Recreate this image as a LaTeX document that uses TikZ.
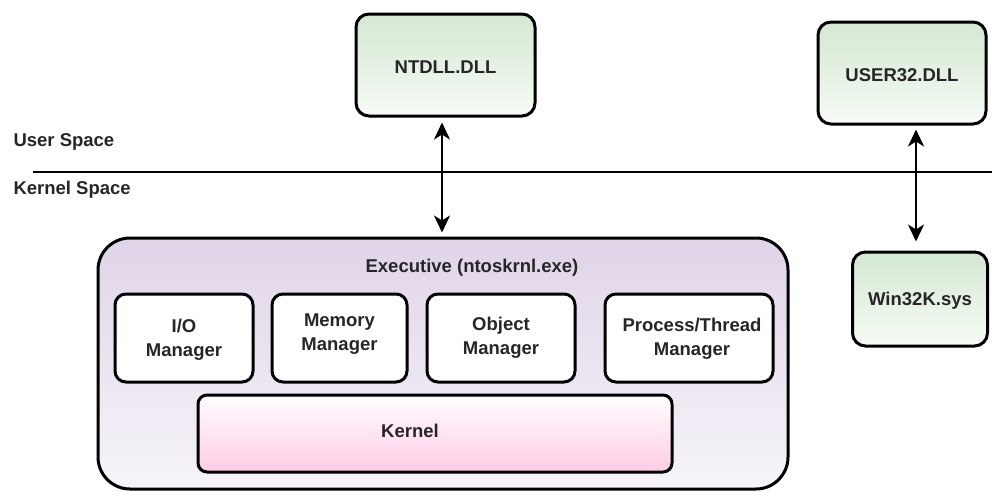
\documentclass[tikz,border=0pt]{standalone}
\usepackage{fontspec}
\setmainfont{Liberation Sans}
\usetikzlibrary{arrows.meta}
\definecolor{greentop}{RGB}{212,232,210}
\definecolor{greenbot}{RGB}{247,251,246}
\definecolor{lavtop}{RGB}{224,212,232}
\definecolor{lavbot}{RGB}{246,244,249}
\definecolor{pinktop}{RGB}{255,253,254}
\definecolor{pinkbot}{RGB}{255,204,229}
\definecolor{ink}{RGB}{38,38,38}
\tikzset{
  lbl/.style={font=\fontsize{18.5}{24}\selectfont\bfseries, text=ink, align=center},
  dllbox/.style={draw=black, line width=3pt, rounded corners=13pt,
    top color=greentop, bottom color=greenbot, inner sep=0pt},
  mgrbox/.style={draw=black, line width=3pt, rounded corners=11pt,
    fill=white, inner sep=0pt},
  execbox/.style={draw=black, line width=3pt, rounded corners=32pt,
    top color=lavtop, bottom color=lavbot, inner sep=0pt},
  kernbox/.style={draw=black, line width=3pt, rounded corners=9pt,
    top color=pinktop, bottom color=pinkbot, inner sep=0pt},
  link/.style={line width=2.5pt,
    {Stealth[length=17pt,width=16pt,inset=5pt]}-{Stealth[length=17pt,width=16pt,inset=5pt]}},
}
\begin{document}
\begin{tikzpicture}[x=1pt, y=-1pt]
\useasboundingbox (0,0) rectangle (992,491);

% user-mode libraries
\node[dllbox, minimum width=179pt, minimum height=102pt] (ntdll) at (445.5,65) {};
\node[lbl] at (445.5,67) {NTDLL.DLL};
\node[dllbox, minimum width=168pt, minimum height=102pt] (user32) at (902,73) {};
\node[lbl] at (902,75) {USER32.DLL};

% user/kernel boundary
\coordinate (sepL) at (33,172);
\coordinate (sepR) at (992,172);
\draw[line width=2.7pt] (sepL) -- (sepR);
\node[lbl, anchor=west] (us) at (10,142) {User Space};
\node[lbl, anchor=west] (ks) at (10,190) {Kernel Space};

% executive and its components
\node[execbox, minimum width=690pt, minimum height=251pt] (exec) at (443,363.5) {};
\node[lbl] (exectitle) at (472,268) {Executive (ntoskrnl.exe)};

\node[mgrbox, minimum width=138pt, minimum height=88pt] (io) at (184,338) {};
\node[lbl] at (184,340) {I/O\\Manager};
\node[mgrbox, minimum width=135pt, minimum height=88pt] (mem) at (339.5,338) {};
\node[lbl] at (339.5,334) {Memory\\Manager};
\node[mgrbox, minimum width=148pt, minimum height=88pt] (obj) at (501,338) {};
\node[lbl] at (501,338) {Object\\Manager};
\node[mgrbox, minimum width=168pt, minimum height=88pt] (proc) at (689,338) {};
\node[lbl] at (692,339) {Process/Thread\\Manager};

\node[kernbox, minimum width=474pt, minimum height=77pt] (kern) at (435,433.5) {};
\node[lbl] at (410,431) {Kernel};

% win32k driver
\node[dllbox, minimum width=135pt, minimum height=94pt] (win32k) at (920,299) {};
\node[lbl] at (920,301) {Win32K.sys};

% system call paths
\draw[link, shorten <=5pt, shorten >=4pt] (ntdll.south -| 442,0) -- (exec.north -| 442,0);
\draw[link, shorten <=4pt, shorten >=9pt] (user32.south -| 916,0) -- (win32k.north -| 916,0);
\end{tikzpicture}
\end{document}
